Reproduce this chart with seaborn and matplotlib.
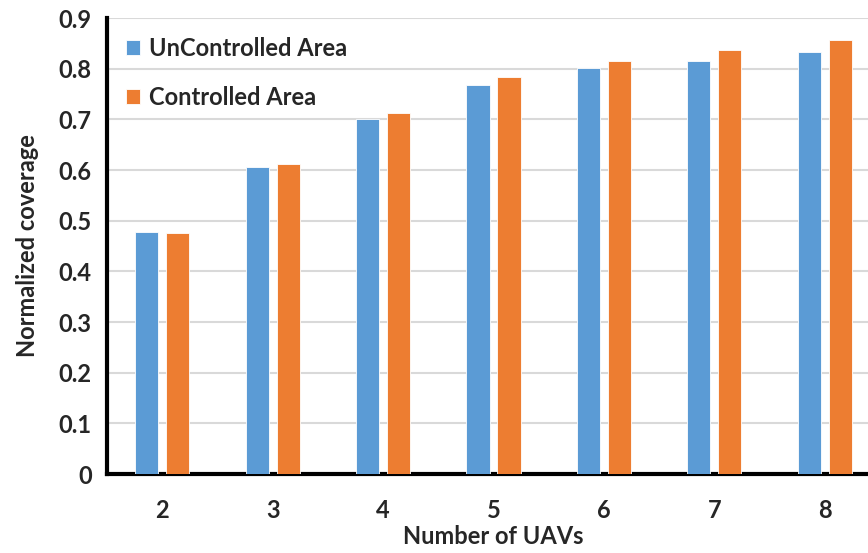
import pandas as pd
import seaborn as sns
import matplotlib.pyplot as plt

uav_counts = ["2", "3", "4", "5", "6", "7", "8"]
uncontrolled = [0.478, 0.605, 0.700, 0.767, 0.802, 0.816, 0.832]
controlled = [0.476, 0.611, 0.713, 0.783, 0.815, 0.836, 0.856]
series_names = ["UnControlled Area", "Controlled Area"]
y_ticks = [0, 0.1, 0.2, 0.3, 0.4, 0.5, 0.6, 0.7, 0.8, 0.9]

df = pd.DataFrame({
    "uavs": uav_counts * 2,
    "coverage": uncontrolled + controlled,
    "area": [series_names[0]] * len(uav_counts) + [series_names[1]] * len(uav_counts),
})

sns.set_style("white")
plt.rcParams["font.family"] = ["Lato", "DejaVu Sans"]
plt.rcParams["font.weight"] = "bold"

fig = plt.figure(figsize=(8.68, 5.53), dpi=100)
ax = fig.add_axes([107 / 868, 79 / 553, 773 / 868, 456 / 553])

sns.barplot(data=df, x="uavs", y="coverage", hue="area", order=uav_counts,
            hue_order=series_names, palette=["#5b9bd5", "#ed7d31"],
            saturation=1, width=0.56, gap=0.25, ax=ax, edgecolor="white",
            linewidth=0.6, zorder=3)

ax.set_ylim(0, 0.9)
ax.set_xlim(-0.5, 6.5)
ax.set_yticks(y_ticks)
ax.set_yticklabels(["0" if t == 0 else f"{t:.1f}" for t in y_ticks])
ax.yaxis.grid(True, color="#d9d9d9", linewidth=1.5, zorder=0)
ax.set_axisbelow(True)

for side in ["top", "right"]:
    ax.spines[side].set_visible(False)
for side in ["left", "bottom"]:
    ax.spines[side].set_color("black")
    ax.spines[side].set_linewidth(3)

ax.tick_params(axis="both", length=0, labelsize=17)
ax.tick_params(axis="y", pad=11)
ax.tick_params(axis="x", pad=18)

ax.set_xlabel("Number of UAVs", fontsize=17, fontweight="bold", labelpad=2)
ax.set_ylabel("Normalized coverage", fontsize=17, fontweight="bold", labelpad=14)

ax.legend(loc="upper left", bbox_to_anchor=(0.011, 0.982), frameon=False,
          fontsize=17, handlelength=0.6, handleheight=0.6, handletextpad=0.35,
          labelspacing=1.1, borderaxespad=0.15, borderpad=0.3)

fig.savefig("out.png", dpi=100)
